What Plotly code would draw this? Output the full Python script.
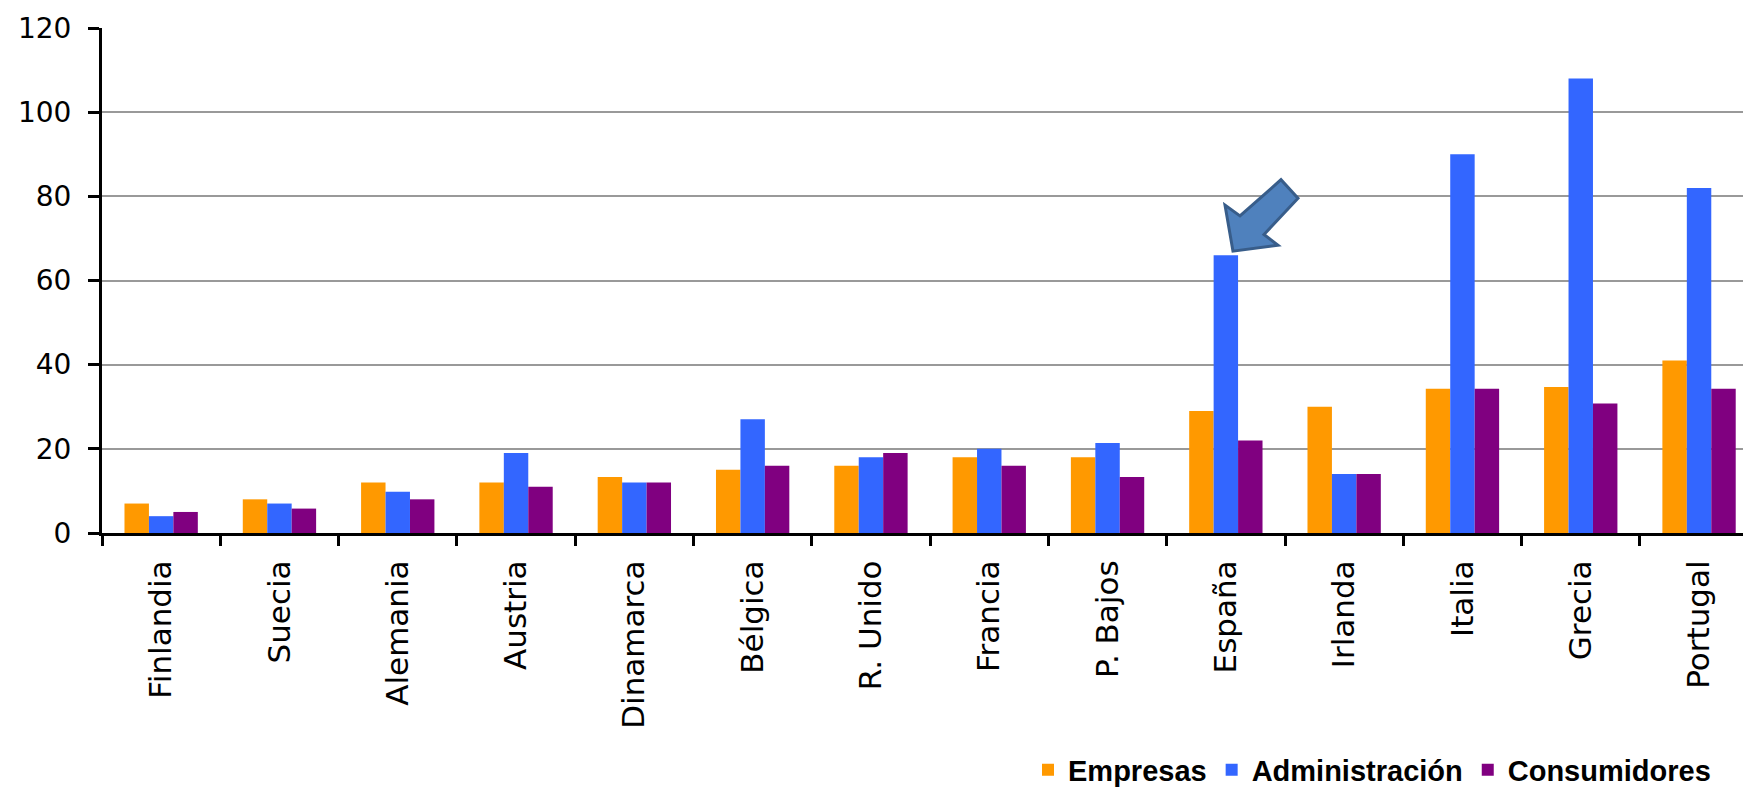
import plotly.graph_objects as go

countries = ["Finlandia", "Suecia", "Alemania", "Austria", "Dinamarca", "Bélgica",
             "R. Unido", "Francia", "P. Bajos", "España", "Irlanda", "Italia",
             "Grecia", "Portugal"]
empresas = [7, 8, 12, 12, 13.3, 15, 16, 18, 18, 29, 30, 34.3, 34.7, 41]
administracion = [4, 7, 9.8, 19, 12, 27, 18, 20, 21.4, 66, 14, 90, 108, 82]
consumidores = [5, 5.8, 8, 11, 12, 16, 19, 16, 13.3, 22, 14, 34.3, 30.8, 34.3]

series_names = ["Empresas", "Administración", "Consumidores"]
series_colors = ["#FF9900", "#3366FF", "#800080"]

# page body has an 8px margin on every side: keep the whole page inside 1751x804
OFF = 8
W, H = 1751 - 2 * OFF, 804 - 2 * OFF
ML, MT = 102 - OFF, 28 - OFF
PLOT_BOTTOM = 544 - OFF
MB = H - PLOT_BOTTOM
MR = 0
CAT_PX = 118.3  # pixel width of one category in the reference
x_hi = -0.5 + (W - ML - MR) / CAT_PX
pw, ph = W - ML - MR, H - MT - MB

fig = go.Figure()
for name, vals, col in zip(series_names, [empresas, administracion, consumidores], series_colors):
    fig.add_trace(go.Bar(name=name, x=countries, y=vals, marker=dict(color=col, line=dict(width=0))))

# decorative block arrow pointing at España (outline in screen px -> paper coords)
arrow_px = [(1233, 256), (1225, 209), (1240, 220), (1281, 183), (1298, 202), (1264, 239), (1278, 250)]
pts = [((x - OFF - ML) / pw, (PLOT_BOTTOM - (y - OFF)) / ph) for x, y in arrow_px]
path = "M " + " L ".join(f"{x:.5f},{y:.5f}" for x, y in pts) + " Z"
fig.add_shape(type="path", xref="paper", yref="paper", path=path,
              fillcolor="#4F81BD", line=dict(color="#385D8A", width=3), layer="above")

tick_font = "DejaVu Sans, Liberation Sans, Arial, sans-serif"
legend_y = (PLOT_BOTTOM - (786 - OFF)) / ph
legend_x = (1716 - OFF - ML) / pw

fig.update_layout(
    width=W, height=H,
    margin=dict(l=ML, r=MR, t=MT, b=MB, pad=0),
    paper_bgcolor="white", plot_bgcolor="white",
    barmode="group", bargap=0.38, bargroupgap=0,
    font=dict(family=tick_font, color="black"),
    showlegend=True,
    legend=dict(orientation="h", x=legend_x, xanchor="right", y=legend_y, yanchor="middle",
                font=dict(size=29, weight="bold",
                          family="Liberation Sans, Arial, sans-serif"),
                itemsizing="constant", itemwidth=30,
                bgcolor="rgba(0,0,0,0)"),
    xaxis=dict(type="category", range=[-0.5, x_hi], showline=True, linecolor="black",
               linewidth=3, ticks="outside", tickson="boundaries", ticklen=10,
               tickwidth=3, tickcolor="black", tickangle=-90,
               tickfont=dict(size=31, family=tick_font),
               showgrid=False, ticklabelstandoff=12),
    yaxis=dict(range=[0, 120], dtick=20, tick0=0, showgrid=True, gridcolor="#999999",
               gridwidth=2, showline=True, linecolor="black", linewidth=3,
               ticks="outside", ticklen=11, tickwidth=3, tickcolor="black",
               tickfont=dict(size=28, family=tick_font), zeroline=False,
               ticklabelstandoff=11),
)

fig.write_html("out.html")
